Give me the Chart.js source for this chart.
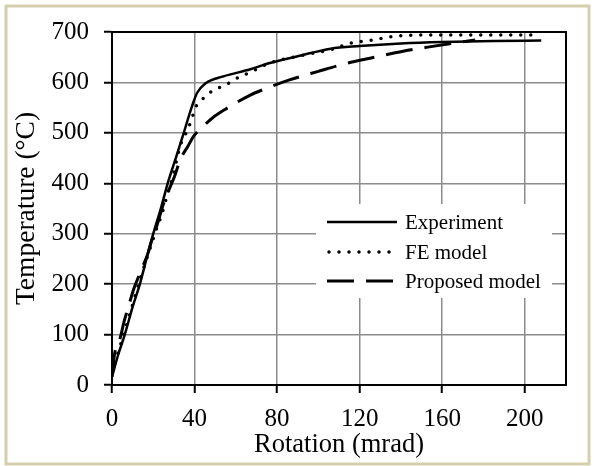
<!DOCTYPE html>
<html>
<head>
<meta charset="utf-8">
<script src="https://cdn.jsdelivr.net/npm/chart.js@4.4.1/dist/chart.umd.min.js"></script>
<style>
  html, body { margin: 0; padding: 0; background: #fff; }
  canvas { display: block; }
</style>
</head>
<body>
<canvas id="tempChart" width="595" height="466"></canvas>
<script>
  // values
  const seriesNames = ['Experiment', 'FE model', 'Proposed model'];

  const expRotation = [0, 3, 6.2, 10, 13.5, 17, 20, 24, 27, 30.6, 34.7, 38.7, 41.2, 45.2, 54, 67, 76, 90, 106, 120, 140, 160, 185, 208];
  const expTemp     = [16, 60, 100, 155, 200, 255, 300, 355, 400, 446, 499, 552, 579, 598, 612, 626, 638, 652, 667, 672, 677, 680, 682, 683];

  const feRotation = [0, 3, 6, 10, 14, 18, 21.7, 24, 26.6, 29.7, 33, 35.5, 37.9, 40.8, 44.4, 49.2, 53.3, 57.3, 62.2, 67, 71, 76, 90, 106, 115.7, 126, 136, 150, 180, 206];
  const feTemp     = [25, 65, 105, 160, 215, 265, 311, 337, 374, 417, 474, 496, 519, 553, 569, 585, 592, 600, 612, 620, 628, 638, 652, 665, 678, 684, 691, 694, 694, 694];

  const propRotation = [0, 1.3, 3.7, 6, 7.8, 10.5, 12.6, 15, 17.5, 19.5, 21, 25, 30.6, 33, 37, 39.5, 44, 48.5, 55, 67, 74, 86, 100, 112, 125, 140, 153, 166, 176];
  const propTemp     = [16, 63, 89, 128, 153, 190, 212, 236, 262, 290, 306, 360, 417, 446, 475, 493, 512, 529, 547, 575, 587, 605, 622, 636, 648, 661, 670, 678, 684];

  const xTickValues = [0, 40, 80, 120, 160, 200];
  const yTickValues = [0, 100, 200, 300, 400, 500, 600, 700];

  const serif = 'Liberation Serif';

  function toPoints(xs, ys) {
    return xs.map((x, i) => ({ x: x, y: ys[i] }));
  }

  // beige frame + white background
  const framePlugin = {
    id: 'frame',
    beforeDraw(chart) {
      const c = chart.ctx;
      c.save();
      c.fillStyle = '#fff';
      c.fillRect(0, 0, chart.width, chart.height);
      c.strokeStyle = '#d6cfae';
      c.lineWidth = 3;
      c.strokeRect(6, 6, chart.width - 12, chart.height - 8);
      c.restore();
    },
    afterDraw(chart) {
      const c = chart.ctx;
      const a = chart.chartArea;
      c.save();
      c.strokeStyle = '#000';
      c.lineWidth = 2;
      c.strokeRect(a.left, a.top, a.right - a.left, a.bottom - a.top);

      // legend inside the plot
      c.fillStyle = '#fff';
      c.fillRect(316, 204, 236, 94);
      const rows = [222, 252, 281];
      chart.data.datasets.forEach((ds, i) => {
        c.beginPath();
        c.strokeStyle = ds.borderColor;
        c.lineWidth = ds.borderWidth;
        c.lineCap = ds.borderCapStyle || 'butt';
        c.setLineDash(ds.borderDash || []);
        c.moveTo(ds.legendStart, rows[i]);
        c.lineTo(397, rows[i]);
        c.stroke();
        c.setLineDash([]);
        c.fillStyle = '#000';
        c.font = '21px "' + serif + '"';
        c.textBaseline = 'middle';
        c.textAlign = 'left';
        c.fillText(ds.label, 405, rows[i] + 1);
      });
      c.restore();
    }
  };

  const ctx = document.getElementById('tempChart').getContext('2d');
  const tempChart = new Chart(ctx, {
    type: 'line',
    data: {
      datasets: [{
        label: seriesNames[0],
        data: toPoints(expRotation, expTemp),
        borderColor: '#000',
        borderWidth: 2.5,
        pointRadius: 0,
        cubicInterpolationMode: 'monotone',
        legendStart: 327
      }, {
        label: seriesNames[1],
        data: toPoints(feRotation, feTemp),
        borderColor: '#000',
        borderWidth: 3.5,
        borderDash: [0, 10],
        borderCapStyle: 'round',
        pointRadius: 0,
        cubicInterpolationMode: 'monotone',
        legendStart: 329
      }, {
        label: seriesNames[2],
        data: toPoints(propRotation, propTemp),
        borderColor: '#000',
        borderWidth: 3,
        borderDash: [27, 12],
        pointRadius: 0,
        cubicInterpolationMode: 'monotone',
        legendStart: 327
      }]
    },
    options: {
      responsive: false,
      animation: false,
      events: [],
      layout: { padding: { left: 8, right: 29, top: 32, bottom: 0 } },
      plugins: {
        legend: { display: false },
        tooltip: { enabled: false }
      },
      scales: {
        x: {
          type: 'linear',
          min: 0,
          max: 220,
          ticks: { color: '#000', padding: 11, maxRotation: 0, font: { family: serif, size: 25 } },
          grid: { color: '#8c8c8c', lineWidth: 1.5, tickLength: 8, tickColor: '#000', tickWidth: 2 },
          border: { color: '#000', width: 2 },
          title: { display: true, text: 'Rotation (mrad)', color: '#000', font: { family: serif, size: 26.5 }, padding: { top: 0, bottom: 5 } },
          afterBuildTicks: s => { s.ticks = xTickValues.map(v => ({ value: v })); },
          afterFit: s => { s.height = 81; }
        },
        y: {
          min: 0,
          max: 700,
          ticks: { color: '#000', padding: 15, font: { family: serif, size: 25 } },
          grid: { color: '#8c8c8c', lineWidth: 1.5, tickLength: 8, tickColor: '#000', tickWidth: 2 },
          border: { color: '#000', width: 2 },
          title: { display: true, text: 'Temperature (°C)', color: '#000', font: { family: serif, size: 27.5 }, padding: { top: 2, bottom: 0 } },
          afterBuildTicks: s => { s.ticks = yTickValues.map(v => ({ value: v })); },
          afterFit: s => { s.width = 104; }
        }
      }
    },
    plugins: [framePlugin]
  });
</script>
</body>
</html>
